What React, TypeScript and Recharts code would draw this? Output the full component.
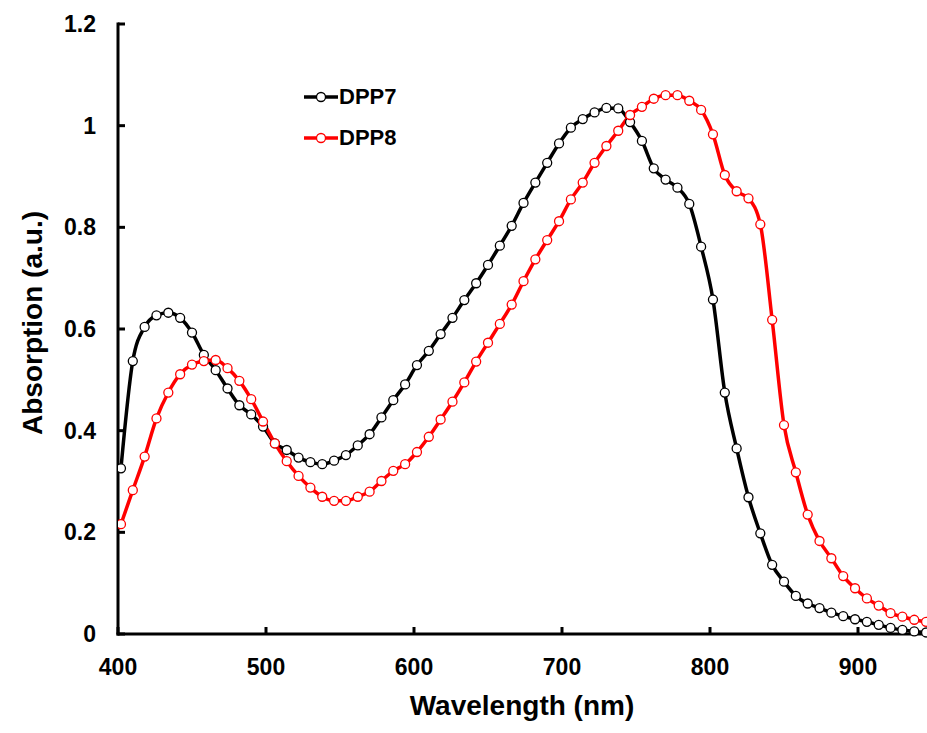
import { LineChart, Line, XAxis, YAxis, Label } from 'recharts'

// wavelength (nm), sampled every 8 nm as in the source plot
const wavelengths = [
  402, 410, 418, 426, 434, 442, 450, 458, 466, 474, 482, 490, 498, 506, 514, 522, 530, 538, 546, 554,
  562, 570, 578, 586, 594, 602, 610, 618, 626, 634, 642, 650, 658, 666, 674, 682, 690, 698, 706, 714,
  722, 730, 738, 746, 754, 762, 770, 778, 786, 794, 802, 810, 818, 826, 834, 842, 850, 858, 866, 874,
  882, 890, 898, 906, 914, 922, 930, 938, 946,
]

const dpp7 = [
  0.326, 0.537, 0.604, 0.627, 0.632, 0.622, 0.593, 0.549, 0.519, 0.483, 0.45, 0.432, 0.408, 0.375, 0.362, 0.347, 0.338, 0.334, 0.341, 0.352,
  0.371, 0.393, 0.426, 0.46, 0.491, 0.529, 0.557, 0.59, 0.622, 0.657, 0.69, 0.726, 0.764, 0.803, 0.848, 0.888, 0.927, 0.965, 0.996, 1.013,
  1.026, 1.035, 1.034, 1.007, 0.97, 0.916, 0.894, 0.878, 0.846, 0.762, 0.658, 0.475, 0.365, 0.269, 0.198, 0.136, 0.103, 0.075, 0.06, 0.051,
  0.042, 0.035, 0.029, 0.024, 0.018, 0.012, 0.008, 0.005, 0.003,
]

const dpp8 = [
  0.216, 0.283, 0.349, 0.424, 0.475, 0.511, 0.53, 0.537, 0.539, 0.523, 0.498, 0.462, 0.418, 0.375, 0.34, 0.311, 0.288, 0.27, 0.262, 0.262,
  0.27, 0.28, 0.301, 0.321, 0.334, 0.358, 0.388, 0.422, 0.457, 0.495, 0.536, 0.573, 0.61, 0.648, 0.694, 0.737, 0.775, 0.812, 0.855, 0.888,
  0.927, 0.96, 0.99, 1.021, 1.037, 1.053, 1.06, 1.06, 1.049, 1.031, 0.983, 0.903, 0.871, 0.857, 0.806, 0.618, 0.411, 0.318, 0.235, 0.183,
  0.149, 0.114, 0.09, 0.07, 0.056, 0.041, 0.034, 0.028, 0.024,
]

const xTicks = [400, 500, 600, 700, 800, 900]
const yTicks = [0, 0.2, 0.4, 0.6, 0.8, 1, 1.2]

const FONT = "'Liberation Sans', Arial, Helvetica, sans-serif"
const TICK_LEN = 7

const data = wavelengths.map((wl, i) => ({ wl, DPP7: dpp7[i], DPP8: dpp8[i] }))

// eslint-disable-next-line @typescript-eslint/no-explicit-any
function XTick({ x, y, payload }: any) {
  const axisY = y - 20
  return (
    <g>
      <line x1={x} x2={x} y1={axisY} y2={axisY - TICK_LEN} stroke="#000" strokeWidth={3} />
      <text x={x} y={y + 21} textAnchor="middle" fontFamily={FONT} fontWeight="bold" fontSize={23} fill="#000">
        {payload.value}
      </text>
    </g>
  )
}

// eslint-disable-next-line @typescript-eslint/no-explicit-any
function YTick({ x, y, payload }: any) {
  const axisX = x + 24
  return (
    <g>
      <line x1={axisX} x2={axisX + TICK_LEN} y1={y} y2={y} stroke="#000" strokeWidth={3} />
      <text x={x + 2} y={y + 8} textAnchor="end" fontFamily={FONT} fontWeight="bold" fontSize={23} fill="#000">
        {payload.value}
      </text>
    </g>
  )
}

// eslint-disable-next-line @typescript-eslint/no-explicit-any
function YTitle({ viewBox }: any) {
  const cx = 32
  const cy = viewBox.y + viewBox.height / 2 - 6
  return (
    <text
      x={cx}
      y={cy}
      transform={`rotate(-90 ${cx} ${cy})`}
      textAnchor="middle"
      dominantBaseline="central"
      fontFamily={FONT}
      fontWeight="bold"
      fontSize={28}
      fill="#000"
    >
      Absorption (a.u.)
    </text>
  )
}

// eslint-disable-next-line @typescript-eslint/no-explicit-any
function XTitle({ viewBox }: any) {
  const cx = viewBox.x + viewBox.width / 2 - 3
  return (
    <text x={cx} y={715} textAnchor="middle" fontFamily={FONT} fontWeight="bold" fontSize={28} fill="#000">
      Wavelength (nm)
    </text>
  )
}

const SERIES = [
  { key: 'DPP7', color: '#000000', width: 3.5 },
  { key: 'DPP8', color: '#ff0000', width: 3.5 },
]

export default function App() {
  return (
    <div
      style={{
        position: 'absolute',
        left: 0,
        top: 0,
        width: 927,
        height: 733,
        overflow: 'hidden',
        background: '#fff',
      }}
    >
      <LineChart width={940} height={733} data={data} margin={{ top: 24, right: 8, bottom: 0, left: 0 }}>
        <XAxis
          dataKey="wl"
          type="number"
          domain={[400, 950]}
          ticks={xTicks}
          allowDataOverflow
          height={99}
          tickSize={0}
          tickMargin={20}
          tick={<XTick />}
          axisLine={{ stroke: '#000', strokeWidth: 3, strokeLinecap: 'square' }}
          label={<XTitle />}
        />
        <YAxis
          type="number"
          domain={[0, 1.2]}
          ticks={yTicks}
          width={118}
          tickSize={0}
          tickMargin={24}
          tick={<YTick />}
          axisLine={{ stroke: '#000', strokeWidth: 3, strokeLinecap: 'square' }}
        >
          <Label content={<YTitle />} />
        </YAxis>

        {SERIES.map((s) => (
          <Line
            key={s.key}
            type="monotone"
            dataKey={s.key}
            stroke={s.color}
            strokeWidth={s.width}
            dot={{ r: 4.5, fill: '#fff', stroke: s.color, strokeWidth: 1.3 }}
            activeDot={false}
            isAnimationActive={false}
          />
        ))}
      </LineChart>

      {/* Legend */}
      <div style={{ position: 'absolute', left: 304, top: 83, fontFamily: FONT }}>
        {SERIES.map((s) => (
          <div key={s.key} style={{ display: 'flex', alignItems: 'center', height: 28, marginBottom: 13 }}>
            <svg width={34} height={14} style={{ display: 'block' }}>
              <line x1={0} x2={34} y1={7} y2={7} stroke={s.color} strokeWidth={3.5} />
              <circle cx={17} cy={7} r={4.5} fill="#fff" stroke={s.color} strokeWidth={1.3} />
            </svg>
            <span style={{ fontSize: 22, fontWeight: 'bold', color: '#000', marginLeft: 1 }}>{s.key}</span>
          </div>
        ))}
      </div>
    </div>
  )
}
